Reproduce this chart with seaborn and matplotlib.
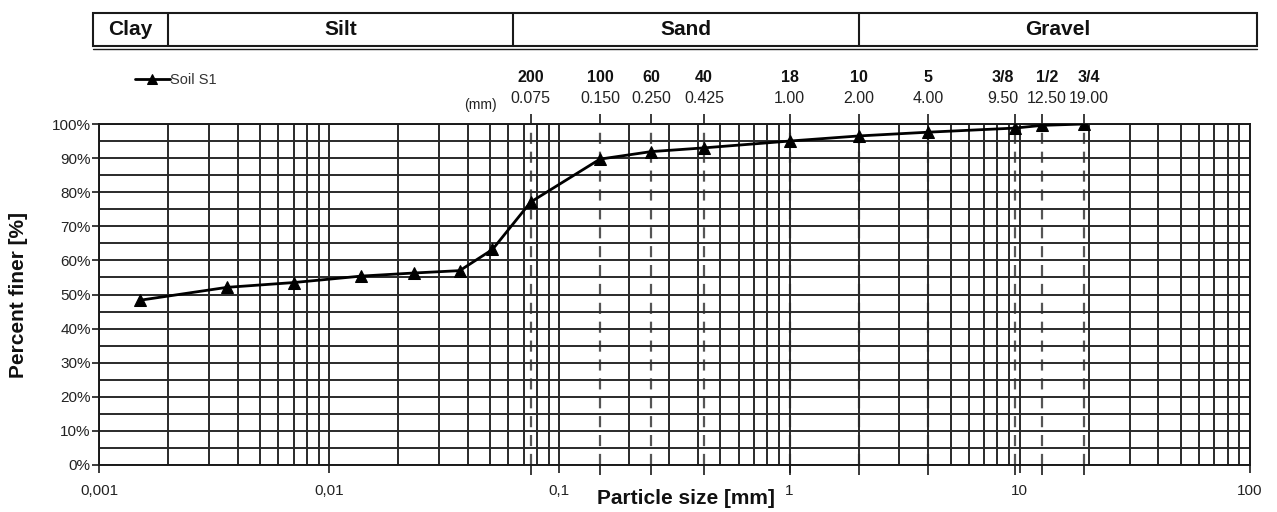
import matplotlib
matplotlib.use("Agg")
import matplotlib.pyplot as plt
import matplotlib.ticker as mticker
import matplotlib.transforms as mtransforms
import numpy as np
import pandas as pd
import seaborn as sns

# ---------------- data ----------------
particle_size_mm = [0.0015, 0.0036, 0.0070, 0.0138, 0.0233, 0.0369, 0.0512,
                    0.075, 0.150, 0.250, 0.425, 1.00, 2.00, 4.00, 9.50, 12.50, 19.00]
percent_finer = [48.3, 52.1, 53.5, 55.4, 56.3, 57.0, 63.2,
                 77.1, 89.7, 91.9, 93.0, 95.0, 96.5, 97.6, 98.8, 99.6, 100.0]
series_name = "Soil S1"

sieve_numbers = ["200", "100", "60", "40", "18", "10", "5", "3/8", "1/2", "3/4"]
sieve_sizes = [0.075, 0.150, 0.250, 0.425, 1.00, 2.00, 4.00, 9.50, 12.50, 19.00]
sieve_size_labels = ["0.075", "0.150", "0.250", "0.425", "1.00", "2.00",
                     "4.00", "9.50", "12.50", "19.00"]

soil_classes = ["Clay", "Silt", "Sand", "Gravel"]
class_boundaries = [0.002, 0.063, 2.0]

x_ticks = [0.001, 0.01, 0.1, 1, 10, 100]
x_tick_labels = ["0,001", "0,01", "0,1", "1", "10", "100"]
y_ticks = list(range(0, 101, 10))

# ---------------- style ----------------
sns.set_style("white")
FONT = ["Liberation Sans Narrow", "Liberation Sans", "DejaVu Sans"]
plt.rcParams["font.family"] = FONT

W, H = 1277, 512
fig = plt.figure(figsize=(W / 100, H / 100), dpi=100)

ax_l, ax_r, ax_t, ax_b = 99, 1250, 124, 465
ax = fig.add_axes([ax_l / W, 1 - ax_b / H, (ax_r - ax_l) / W, (ax_b - ax_t) / H])

df = pd.DataFrame({"size": particle_size_mm, "finer": percent_finer})

ax.set_xscale("log")
ax.set_xlim(0.001, 100)
ax.set_ylim(0, 100)

grid_col = "#2a2a2a"
# sieve dashed lines (below the grid, so coinciding grid lines stay solid)
for s in sieve_sizes:
    ax.axvline(s, color="#555555", lw=1.6, ls=(0, (5, 3.5)), zorder=0.3)

ax.xaxis.set_major_locator(mticker.FixedLocator(x_ticks))
ax.xaxis.set_major_formatter(mticker.FixedFormatter(x_tick_labels))
ax.xaxis.set_minor_locator(mticker.LogLocator(base=10, subs=np.arange(2, 10), numticks=20))
ax.xaxis.set_minor_formatter(mticker.NullFormatter())
ax.yaxis.set_major_locator(mticker.FixedLocator(y_ticks))
ax.yaxis.set_major_formatter(mticker.FuncFormatter(lambda v, p: f"{int(v)}%"))
ax.yaxis.set_minor_locator(mticker.MultipleLocator(5))

ax.grid(True, which="both", color=grid_col, lw=1.4, zorder=0.6)
ax.set_axisbelow(True)

sns.lineplot(data=df, x="size", y="finer", ax=ax, color="black", lw=2.0,
             marker="^", markersize=8.5, markeredgecolor="black",
             label=series_name, zorder=5)

for sp in ax.spines.values():
    sp.set_color("#1a1a1a")
    sp.set_linewidth(1.4)

ax.tick_params(axis="x", which="major", direction="out", length=6, width=1.2,
               labelsize=11, pad=8, color="#1a1a1a", labelcolor="#222222")
ax.tick_params(axis="x", which="minor", length=0)
ax.tick_params(axis="y", which="major", direction="out", length=5, width=1.2,
               labelsize=11, pad=1, color="#1a1a1a", labelcolor="#222222")
ax.tick_params(axis="y", which="minor", length=0)
ax.tick_params(left=True, bottom=True)

ax.set_xlabel("Particle size [mm]", fontsize=15, fontweight="bold", color="#111111")
ax.xaxis.set_label_coords(0.51, -0.07)
ax.set_ylabel("Percent finer [%]", fontsize=15, fontweight="bold", color="#111111")
ax.yaxis.set_label_coords(-0.062, 0.5)

# legend
leg = ax.legend(loc="center left", bbox_to_anchor=(0.026, 1.13), frameon=False,
                fontsize=10.5, handlelength=2.4, handletextpad=0.05, borderaxespad=0,
                markerscale=0.8)
for t in leg.get_texts():
    t.set_color("#333333")

# sieve ticks on top and bottom
ax2 = ax.twiny()
ax2.set_xscale("log")
ax2.set_xlim(ax.get_xlim())
ax2.xaxis.set_major_locator(mticker.FixedLocator(sieve_sizes))
ax2.xaxis.set_major_formatter(mticker.NullFormatter())
ax2.xaxis.set_minor_locator(mticker.NullLocator())
ax2.xaxis.set_ticks_position("both")
ax2.tick_params(axis="x", direction="out", length=7, width=1.2, color="#1a1a1a")
ax2.grid(False)
for sp in ax2.spines.values():
    sp.set_visible(False)

# sieve labels
tr = mtransforms.blended_transform_factory(ax.transData, ax.transAxes)
label_offsets = [0, 0, 0, 0, 0, 0, 0, -12, 5, 5]
for s, n, lab, off in zip(sieve_sizes, sieve_numbers, sieve_size_labels, label_offsets):
    ax.annotate(n, (s, 1.137), xycoords=tr, xytext=(off, 0), textcoords="offset pixels",
                ha="center", va="center", fontsize=11.5, fontweight="bold", color="#111111")
    ax.annotate(lab, (s, 1.076), xycoords=tr, xytext=(off, 0), textcoords="offset pixels",
                ha="center", va="center", fontsize=11.5, color="#222222")
ax.text(0.331, 1.056, "(mm)", transform=ax.transAxes, ha="center", va="center",
        fontsize=10, color="#222222")

# header with soil classes
hdr_t, hdr_b = 13, 46
hdr = fig.add_axes([ax_l / W, 1 - hdr_b / H, (ax_r - ax_l) / W, (hdr_b - hdr_t) / H])
hdr.set_xscale("log")
hdr.set_xlim(ax.get_xlim())
hdr.set_ylim(0, 1)
hdr.axis("off")
fx0, fx1 = -6 / (ax_r - ax_l), 1 + 7 / (ax_r - ax_l)
hdr.add_patch(plt.Rectangle((fx0, 0), fx1 - fx0, 1, transform=hdr.transAxes,
                            fill=False, lw=1.5, ec="#1a1a1a", clip_on=False))
hdr.plot([fx0, fx1], [-0.08, -0.08], transform=hdr.transAxes, color="#1a1a1a",
         lw=1.0, clip_on=False)
htr = mtransforms.blended_transform_factory(hdr.transData, hdr.transAxes)
for b in class_boundaries:
    hdr.plot([b, b], [0, 1], transform=htr, color="#1a1a1a", lw=1.5, clip_on=False)
lmin, lmax = np.log10(ax.get_xlim())
edge_fracs = [fx0] + [(np.log10(b) - lmin) / (lmax - lmin) for b in class_boundaries] + [fx1]
for i, name in enumerate(soil_classes):
    c = 0.5 * (edge_fracs[i] + edge_fracs[i + 1])
    hdr.text(c, 0.5, name, transform=hdr.transAxes, ha="center", va="center",
             fontsize=15, fontweight="bold", color="#111111")

fig.savefig("out.png", dpi=100)
